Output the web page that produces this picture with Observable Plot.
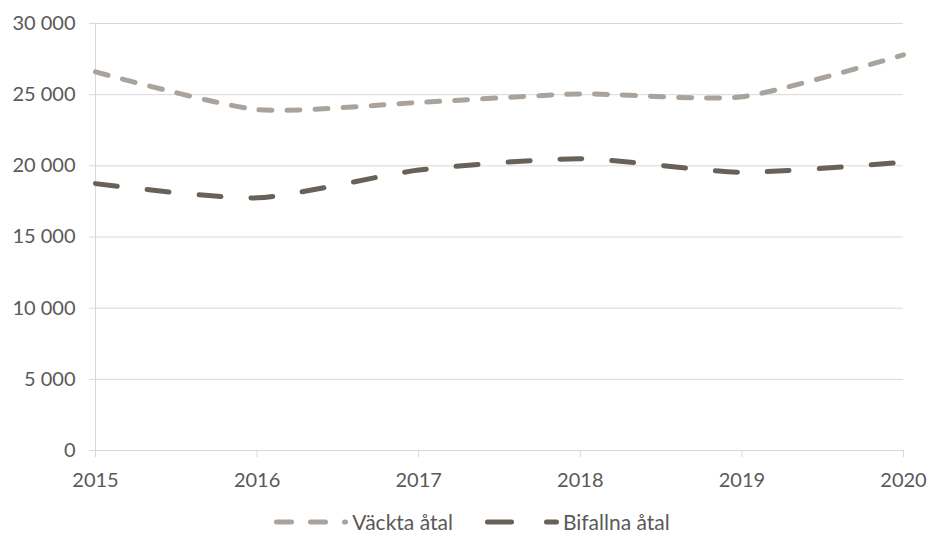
<!DOCTYPE html>
<html>
<head>
<meta charset="utf-8">
<script src="https://cdn.jsdelivr.net/npm/d3@7"></script>
<script src="https://cdn.jsdelivr.net/npm/@observablehq/plot@0.6"></script>
<style>
  body { margin: 0; background: #fff; font-family: Lato, "Open Sans", sans-serif; }
  #chart { width: 928px; }
  .legend { display: flex; justify-content: center; align-items: center; margin-top: 10px; padding-left: 16px; font-size: 21px; color: #595959; line-height: 24px; }
  .legend .item { display: flex; align-items: center; }
  .legend svg { display: block; }
</style>
</head>
<body>
<div id="chart"></div>
<script>
const years = [2015, 2016, 2017, 2018, 2019, 2020];
const vacktaAtal = [26600, 23950, 24450, 25050, 24850, 27800];
const bifallnaAtal = [18750, 17750, 19700, 20500, 19550, 20250];
const yTicks = [0, 5000, 10000, 15000, 20000, 25000, 30000];
const seriesNames = ["Väckta åtal", "Bifallna åtal"];
const seriesColors = ["#aaa39b", "#686158"];
const seriesDash = ["13,15", "22,30"];
const legendDash = ["15,19", "24,35"];

const rows = [];
years.forEach((y, i) => {
  rows.push({year: y, value: vacktaAtal[i], series: seriesNames[0]});
  rows.push({year: y, value: bifallnaAtal[i], series: seriesNames[1]});
});

const fmt = d => d3.format(",")(d).replace(/,/g, "\u00a0");

const plot = Plot.plot({
  width: 928,
  height: 500,
  marginLeft: 95,
  marginRight: 25,
  marginTop: 23,
  marginBottom: 50,
  style: { fontFamily: "Lato, 'Open Sans', sans-serif", fontSize: "20px", color: "#595959", background: "#fff" },
  x: { domain: [2015, 2020], label: null },
  y: { domain: [0, 30000], label: null },
  marks: [
    Plot.gridY(yTicks, { stroke: "#d9d9d9", strokeOpacity: 1 }),
    Plot.ruleX([2015], { stroke: "#d9d9d9", strokeWidth: 1 }),
    Plot.ruleY([0], { stroke: "#d9d9d9", strokeWidth: 1 }),
    Plot.axisY(yTicks, { tickFormat: fmt, tickSize: 6, tickPadding: 14, stroke: "#d9d9d9", fill: "#595959", fontSize: 20, label: null }),
    Plot.axisX(years, { tickFormat: d => String(d), tickSize: 7, tickPadding: 15, stroke: "#d9d9d9", fill: "#595959", fontSize: 20, label: null }),
    ...seriesNames.map((name, k) =>
      Plot.line(rows.filter(r => r.series === name), {
        x: "year", y: "value", curve: "cardinal", tension: 0.35,
        stroke: seriesColors[k], strokeWidth: 5, strokeLinecap: "round",
        strokeDasharray: seriesDash[k]
      })
    )
  ]
});
document.getElementById("chart").appendChild(plot);

const legend = document.createElement("div");
legend.className = "legend";
seriesNames.forEach((name, k) => {
  const item = document.createElement("div");
  item.className = "item";
  item.style.marginRight = k === 0 ? "32px" : "0";
  item.innerHTML = `<svg width="74" height="12"><line x1="2.5" y1="6" x2="71.5" y2="6" stroke="${seriesColors[k]}" stroke-width="5" stroke-linecap="round" stroke-dasharray="${legendDash[k]}"/></svg><span style="margin-left:4px">${name}</span>`;
  legend.appendChild(item);
});
document.getElementById("chart").appendChild(legend);
</script>
</body>
</html>
